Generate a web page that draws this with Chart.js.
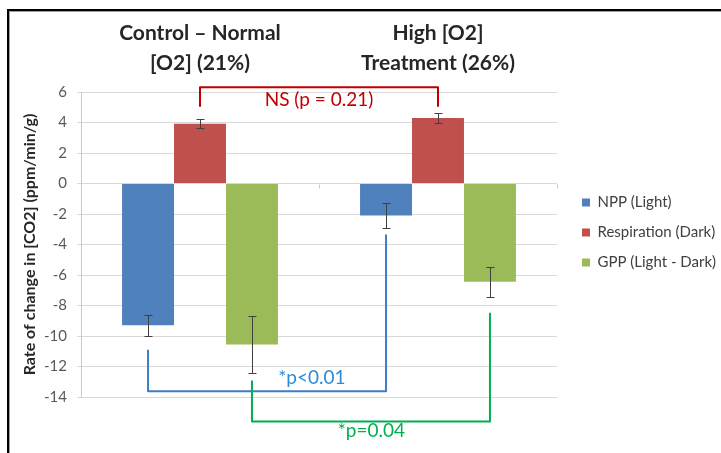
<!DOCTYPE html>
<html>
<head>
<meta charset="utf-8">
<script src="https://cdn.jsdelivr.net/npm/chart.js@4.4.1/dist/chart.umd.min.js"></script>
<style>
  body { margin: 0; background: #fff; }
  #wrap { position: relative; width: 721px; height: 453px; }
  #frame {
    position: absolute; left: 7px; top: 9px; right: 0; bottom: 0;
    border-top: 2px solid #000; border-left: 2px solid #000;
    box-shadow: inset 1px 1px 0 #a0a0a0;
    pointer-events: none;
  }
</style>
</head>
<body>
<div id="wrap">
  <canvas id="chart" width="721" height="453"></canvas>
  <div id="frame"></div>
</div>
<script>
// categories and series
const groupLabels = [["Control – Normal", "[O2] (21%)"], ["High [O2]", "Treatment (26%)"]];
const seriesNames = ["NPP (Light)", "Respiration (Dark)", "GPP (Light - Dark)"];
const nppValues = [-9.3, -2.1];
const respValues = [3.92, 4.3];
const gppValues = [-10.55, -6.45];
const nppErrors = [0.68, 0.82];
const respErrors = [0.28, 0.33];
const gppErrors = [1.88, 0.98];
const yMin = -14, yMax = 6, yStep = 2;

// significance brackets (series compared across the two groups, data units)
const sigSeries = [1, 0, 2];
const sigText = ["NS (p = 0.21)", "*p<0.01", "*p=0.04"];
const sigLegStart = [[5.03, 5.03], [-10.9, -3.35], [-12.92, -8.47]];
const sigLevel = [6.31, -13.63, -15.6];
const sigTextX = [0.5, 0.47, 0.72];
const sigTextY = [5.47, -12.77, -16.2];

const FONT = "Lato";
const barColors = ["#4f81bd", "#c0504d", "#9bbb59"];
const sigColors = ["#c00000", "#3c7dc4", "#00b050"];
const sigTextColors = ["#c00000", "#2f8ad8", "#00b050"];

const errorBars = {
  id: "errorBars",
  beforeDatasetsDraw(chart) {
    // small tick marks on the zero axis at category boundaries
    const ctx = chart.ctx, x = chart.scales.x, y = chart.scales.y;
    const y0 = Math.round(y.getPixelForValue(0)) + 0.5;
    const n = chart.data.labels.length;
    ctx.save();
    ctx.strokeStyle = "#c8c8c8";
    ctx.lineWidth = 1;
    for (let i = 0; i <= n; i++) {
      const px = Math.round(x.getPixelForValue(i - 0.5)) + 0.5;
      ctx.beginPath();
      ctx.moveTo(px, y0);
      ctx.lineTo(px, y0 + 4);
      ctx.stroke();
    }
    ctx.restore();
  },
  afterDatasetsDraw(chart) {
    const ctx = chart.ctx, y = chart.scales.y;
    ctx.save();
    ctx.strokeStyle = "#404040";
    ctx.lineWidth = 1;
    chart.data.datasets.forEach((ds, i) => {
      chart.getDatasetMeta(i).data.forEach((bar, j) => {
        const v = ds.data[j], e = ds.errors[j];
        const px = Math.round(bar.x) + 0.5;
        const top = Math.round(y.getPixelForValue(v + e)) + 0.5;
        const bot = Math.round(y.getPixelForValue(v - e)) + 0.5;
        ctx.beginPath();
        ctx.moveTo(px, top); ctx.lineTo(px, bot);
        ctx.moveTo(px - 4, top); ctx.lineTo(px + 4, top);
        ctx.moveTo(px - 4, bot); ctx.lineTo(px + 4, bot);
        ctx.stroke();
      });
    });
    ctx.restore();
  }
};

const brackets = {
  id: "brackets",
  afterDraw(chart) {
    const ctx = chart.ctx, x = chart.scales.x, y = chart.scales.y;
    ctx.save();
    sigSeries.forEach((s, k) => {
      const bars = chart.getDatasetMeta(s).data;
      const x1 = bars[0].x, x2 = bars[1].x;
      const yl = y.getPixelForValue(sigLevel[k]);
      ctx.strokeStyle = sigColors[k];
      ctx.lineWidth = 2;
      ctx.lineJoin = "round";
      ctx.beginPath();
      ctx.moveTo(x1, y.getPixelForValue(sigLegStart[k][0]));
      ctx.lineTo(x1, yl);
      ctx.lineTo(x2, yl);
      ctx.lineTo(x2, y.getPixelForValue(sigLegStart[k][1]));
      ctx.stroke();
      ctx.fillStyle = sigTextColors[k];
      ctx.font = "19px " + FONT;
      ctx.textAlign = "center";
      ctx.textBaseline = "middle";
      ctx.fillText(sigText[k], x.getPixelForValue(sigTextX[k]), y.getPixelForValue(sigTextY[k]));
    });
    ctx.restore();
  }
};

new Chart(document.getElementById("chart"), {
  type: "bar",
  data: {
    labels: groupLabels,
    datasets: [
      { label: seriesNames[0], data: nppValues, errors: nppErrors, backgroundColor: barColors[0] },
      { label: seriesNames[1], data: respValues, errors: respErrors, backgroundColor: barColors[1] },
      { label: seriesNames[2], data: gppValues, errors: gppErrors, backgroundColor: barColors[2] }
    ]
  },
  options: {
    responsive: false,
    animation: false,
    barPercentage: 1,
    categoryPercentage: 0.655,
    layout: { padding: { top: 12, right: 0, left: 0, bottom: 0 } },
    scales: {
      x: {
        position: "top",
        grid: { display: false, drawTicks: false },
        border: { display: false },
        ticks: {
          color: "#262626",
          font: { family: FONT, size: 21, weight: "bold", lineHeight: 30 / 21 },
          padding: 14,
          maxRotation: 0,
          autoSkip: false
        },
        afterFit: s => { s.height = 80; }
      },
      xb: {
        type: "category",
        position: "bottom",
        grid: { display: false, drawTicks: false },
        border: { display: false },
        ticks: { display: false },
        afterFit: s => { s.height = 56; }
      },
      y: {
        min: yMin,
        max: yMax,
        ticks: { stepSize: yStep, color: "#595959", font: { family: FONT, size: 15 }, padding: 10 },
        grid: { color: "#d9d9d9", tickLength: 4 },
        border: { color: "#c8c8c8" },
        title: {
          display: true,
          text: "Rate of change in [CO2] (ppm/min/g)",
          color: "#262626",
          font: { family: FONT, size: 16, weight: "bold" },
          padding: { top: 20, bottom: 0 }
        },
        afterFit: s => { s.width = 81; }
      },
      yr: {
        type: "linear",
        position: "right",
        grid: { display: false, drawTicks: false },
        border: { display: false },
        ticks: { display: false },
        afterFit: s => { s.width = 10; }
      }
    },
    plugins: {
      legend: {
        position: "right",
        maxWidth: 154,
        labels: {
          boxWidth: 8,
          boxHeight: 8,
          padding: 15,
          color: "#404040",
          font: { family: FONT, size: 15 }
        }
      },
      tooltip: { enabled: false }
    }
  },
  plugins: [errorBars, brackets]
});
</script>
</body>
</html>
